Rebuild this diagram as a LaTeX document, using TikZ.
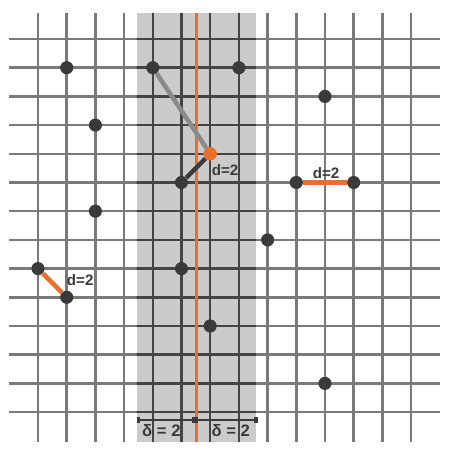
\documentclass[tikz,border=0pt]{standalone}
\usepackage{fontspec}
\setmainfont{Liberation Sans}
\definecolor{gridgray}{HTML}{7A7A7A}
\definecolor{griddark}{HTML}{444444}
\definecolor{bandgray}{HTML}{CBCBCB}
\definecolor{dotgray}{HTML}{3A3A3A}
\definecolor{linkgray}{HTML}{8A8A8A}
\definecolor{orng}{HTML}{E8702A}
\tikzset{
  dot/.style={circle,fill=dotgray,inner sep=0pt,minimum size=13pt},
  odot/.style={circle,fill=orng,inner sep=0pt,minimum size=13pt},
  seg/.style={line width=4.5pt},
  dlabel/.style={font=\bfseries\fontsize{15}{17}\selectfont,text=dotgray,inner sep=0pt},
  deltalabel/.style={font=\bfseries\fontsize{16.5}{18}\selectfont,text=dotgray,inner sep=0pt},
  endmark/.style={fill=dotgray,inner sep=0pt,minimum width=3.5pt,minimum height=6pt},
}
\begin{document}
\begin{tikzpicture}[x=1cm,y=-1cm]
\useasboundingbox (-0.324,-0.359) rectangle (15.425,15.530);
% band
\fill[bandgray] (4.44,0.09) rectangle (8.6,15.04);
% grid
\foreach \i in {1,...,14} {
  \draw[gridgray,line width=2.4pt] (\i,0.09) -- (\i,15.04);
  \draw[gridgray,line width=2.4pt] (0,\i) -- (15,\i);
}
\begin{scope}
\clip (4.44,0.09) rectangle (8.6,15.04);
\foreach \i in {1,...,14} {
  \draw[griddark,line width=2.4pt] (\i,0.09) -- (\i,15.04);
  \draw[griddark,line width=2.4pt] (0,\i) -- (15,\i);
}
\end{scope}
% dividing line
\coordinate (ltop) at (6.53,0.09);
\coordinate (lbot) at (6.53,15.04);
\draw[orng,line width=2.6pt] (ltop) -- (lbot);
% points
\node[dot] (a) at (2,2) {};
\node[dot] (b) at (5,2) {};
\node[dot] (c) at (8,2) {};
\node[dot] (d) at (11,3) {};
\node[dot] (e) at (3,4) {};
\node[odot] (f) at (7,5) {};
\node[dot] (g) at (6,6) {};
\node[dot] (h) at (10,6) {};
\node[dot] (i) at (12,6) {};
\node[dot] (j) at (3,7) {};
\node[dot] (k) at (9,8) {};
\node[dot] (l) at (1,9) {};
\node[dot] (m) at (6,9) {};
\node[dot] (n) at (2,10) {};
\node[dot] (o) at (7,11) {};
\node[dot] (p) at (11,13) {};
% connectors
\draw[seg,linkgray] (b) -- (f);
\draw[seg,dotgray] (g) -- (f);
\draw[seg,orng] (h) -- (i);
\draw[seg,orng] (l) -- (n);
\node[odot] at (f) {};
% labels
\node[dlabel] (lf) at (7.52,5.56) {d=2};
\node[dlabel] (lh) at (11.04,5.68) {d=2};
\node[dlabel] (ll) at (2.47,9.39) {d=2};
% delta bracket
\coordinate (bl) at (4.5,14.28);
\coordinate (br) at (8.6,14.28);
\draw[dotgray,line width=2pt] (bl) -- (br);
\node[endmark] (el) at (4.5,14.28) {};
\node[endmark] (er) at (8.6,14.28) {};
\node[endmark,minimum width=6pt] (em) at (6.46,14.28) {};
\node[deltalabel] (dl) at (5.30,14.66) {δ = 2};
\node[deltalabel] (dr) at (7.72,14.66) {δ = 2};
\end{tikzpicture}
\end{document}
